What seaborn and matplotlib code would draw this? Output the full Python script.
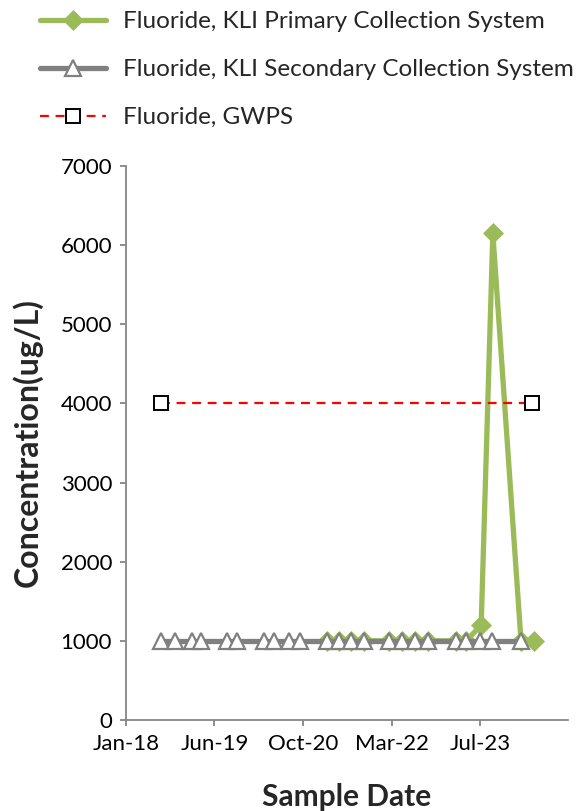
import matplotlib
matplotlib.use("Agg")
import matplotlib.pyplot as plt
import pandas as pd
import seaborn as sns

# Fluoride results by sampling event (ug/L)
primary_dates = ["2021-03-15", "2021-05-29", "2021-08-07", "2021-10-22",
                 "2022-03-16", "2022-05-30", "2022-08-14", "2022-10-29",
                 "2023-04-09", "2023-06-07", "2023-09-02", "2023-11-09",
                 "2024-04-21", "2024-07-06"]
primary_values = [1000, 1000, 1000, 1000, 1000, 1000, 1000, 1000,
                  1000, 1000, 1200, 6150, 1000, 1000]

secondary_dates = ["2018-07-23", "2018-10-12", "2019-01-20", "2019-03-12",
                   "2019-08-11", "2019-10-08", "2020-03-15", "2020-05-10",
                   "2020-08-06", "2020-10-09", "2021-03-15", "2021-05-29",
                   "2021-08-07", "2021-10-22", "2022-03-16", "2022-05-30",
                   "2022-08-14", "2022-10-29", "2023-04-09", "2023-06-07",
                   "2023-08-25", "2023-11-05", "2024-04-21"]
secondary_values = [1000] * 23

gwps_dates = ["2018-07-23", "2024-06-24"]
gwps_values = [4000, 4000]

tick_dates = ["2018-01-01", "2019-06-01", "2020-10-29", "2022-03-29", "2023-08-26"]
tick_labels = ["Jan-18", "Jun-19", "Oct-20", "Mar-22", "Jul-23"]
y_ticks = [0, 1000, 2000, 3000, 4000, 5000, 6000, 7000]

primary = pd.DataFrame({"date": pd.to_datetime(primary_dates), "value": primary_values})
secondary = pd.DataFrame({"date": pd.to_datetime(secondary_dates), "value": secondary_values})
gwps = pd.DataFrame({"date": pd.to_datetime(gwps_dates), "value": gwps_values})

sns.set_style("white")
plt.rcParams["font.family"] = ["Lato", "DejaVu Sans"]

fig = plt.figure(figsize=(5.83, 8.11), dpi=100)
ax = fig.add_axes([0.216, 0.1122, 0.758, 0.6831])

green = "#9BBB59"
grey = "#808080"
axis_grey = "#868686"

sns.lineplot(data=primary, x="date", y="value", ax=ax, estimator=None,
             color=green, linewidth=3.8, marker="D", markersize=10,
             markeredgecolor=green, markerfacecolor=green, markeredgewidth=0.5,
             label="Fluoride, KLI Primary Collection System", zorder=3)
sns.lineplot(data=secondary, x="date", y="value", ax=ax, estimator=None,
             color=grey, linewidth=3.8, marker="^", markersize=11.5,
             markeredgecolor=grey, markerfacecolor="white", markeredgewidth=1.6,
             label="Fluoride, KLI Secondary Collection System", zorder=4)
sns.lineplot(data=gwps, x="date", y="value", ax=ax, estimator=None,
             color="#FF0000", linewidth=1.6, linestyle=(0, (4, 3)), marker="s",
             markersize=10, markeredgecolor="black", markerfacecolor="white",
             markeredgewidth=1.4, label="Fluoride, GWPS", zorder=5)

x0 = pd.Timestamp("2018-01-01")
ax.set_xlim(x0, x0 + pd.Timedelta(days=2575))
ax.set_ylim(0, 7000)
ax.set_yticks(y_ticks)
ax.set_xticks(pd.to_datetime(tick_dates))
ax.set_xticklabels(tick_labels)

for side in ["top", "right"]:
    ax.spines[side].set_visible(False)
for side in ["left", "bottom"]:
    ax.spines[side].set_color(axis_grey)
    ax.spines[side].set_linewidth(1.3)
ax.tick_params(axis="both", direction="out", length=4.5, width=1.3,
               color=axis_grey, labelsize=16, labelcolor="black", pad=5.5,
               left=True, bottom=True)

ax.set_xlabel("Sample Date", fontsize=21.5, fontweight="bold", labelpad=21)
ax.set_ylabel("Concentration(ug/L)", fontsize=23, fontweight="bold", labelpad=12.5)

leg = ax.legend(loc="upper left", bbox_to_anchor=(0.0686, 0.9863),
                bbox_transform=fig.transFigure, frameon=False,
                fontsize=17.5, handlelength=2.7, handletextpad=0.7,
                labelspacing=1.11, borderaxespad=0, borderpad=0)

fig.savefig("out.png", dpi=100)
